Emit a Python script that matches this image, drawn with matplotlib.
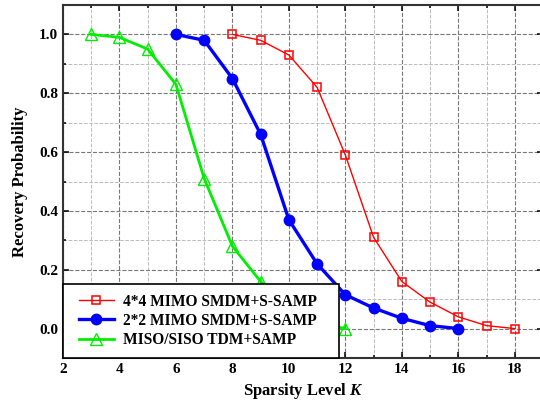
import numpy as np
import matplotlib
matplotlib.use('Agg')
import matplotlib.pyplot as plt
from matplotlib.ticker import MultipleLocator
from matplotlib.patches import Rectangle

plt.rcParams['font.family'] = 'Liberation Serif'
plt.rcParams['font.weight'] = 'bold'
plt.rcParams['mathtext.fontset'] = 'custom'
plt.rcParams['mathtext.bfit'] = 'Liberation Serif:italic:bold'
plt.rcParams['mathtext.it'] = 'Liberation Serif:italic:bold'

# Dados
k_red = [8, 9, 10, 11, 12, 13, 14, 15, 16, 17, 18]
p_red = [1.0, 0.98, 0.93, 0.82, 0.59, 0.31, 0.16, 0.09, 0.04, 0.01, 0.0]

k_blue = [6, 7, 8, 9, 10, 11, 12, 13, 14, 15, 16]
p_blue = [1.0, 0.98, 0.85, 0.66, 0.37, 0.22, 0.115, 0.07, 0.035, 0.01, 0.0]

k_green = [3, 4, 5, 6, 7, 8, 9, 10, 11, 12]
p_green = [1.0, 0.99, 0.95, 0.83, 0.51, 0.28, 0.16, 0.07, 0.02, 0.0]

labels = ['4*4 MIMO SMDM+S-SAMP', '2*2 MIMO SMDM+S-SAMP', 'MISO/SISO TDM+SAMP']

fig = plt.figure(figsize=(5.4, 4.04), dpi=100)
ax = fig.add_axes([63/540, 46/404, 480/540, 353/404])

ax.plot(k_red, p_red, '-s', color='red', lw=1.0, ms=5.5, mfc='none', mew=1.1, label=labels[0])
ax.plot(k_blue, p_blue, '-o', color='blue', lw=2.4, ms=7.5, label=labels[1])
ax.plot(k_green, p_green, '-^', color='#00ee00', lw=2.0, ms=8, mfc='none', mew=1.0, label=labels[2])

ax.set_xlim(2, 19)
ax.set_ylim(-0.1, 1.1)
ax.xaxis.set_major_locator(MultipleLocator(2))
ax.xaxis.set_minor_locator(MultipleLocator(1))
ax.yaxis.set_major_locator(MultipleLocator(0.2))
ax.yaxis.set_minor_locator(MultipleLocator(0.1))
ax.yaxis.set_major_formatter(matplotlib.ticker.FormatStrFormatter('%.1f'))

ax.grid(which='major', ls='--', color='#777777', lw=0.8)
ax.grid(which='minor', ls='--', color='#bbbbbb', lw=0.7)
ax.set_axisbelow(True)

ax.tick_params(which='both', direction='in', top=True, right=True, labelsize=11, width=1.1)
ax.tick_params(which='major', length=4.5)
ax.tick_params(which='minor', length=2.5)
for s in ax.spines.values():
    s.set_linewidth(1.5)
    s.set_color('#333333')

ax.set_xlabel('Sparsity Level $K$', fontsize=12, fontweight='bold')
ax.set_ylabel('Recovery Probability', fontsize=12, fontweight='bold', labelpad=8)

# Caixa da legenda (desenhada à parte para controlar o tamanho)
ax.add_patch(Rectangle((0, 0), 0.575, 0.21, transform=ax.transAxes, facecolor='white',
                       edgecolor='black', lw=1.2, zorder=4.5, clip_on=False))
leg = ax.legend(loc='upper left', bbox_to_anchor=(0.033, 0.182), prop={'size': 11.2, 'weight': 'bold'},
                frameon=False, borderaxespad=0, borderpad=0,
                handlelength=2.25, labelspacing=0.2, handletextpad=0.58)
leg.set_zorder(5)

fig.savefig('out.png', dpi=100)
